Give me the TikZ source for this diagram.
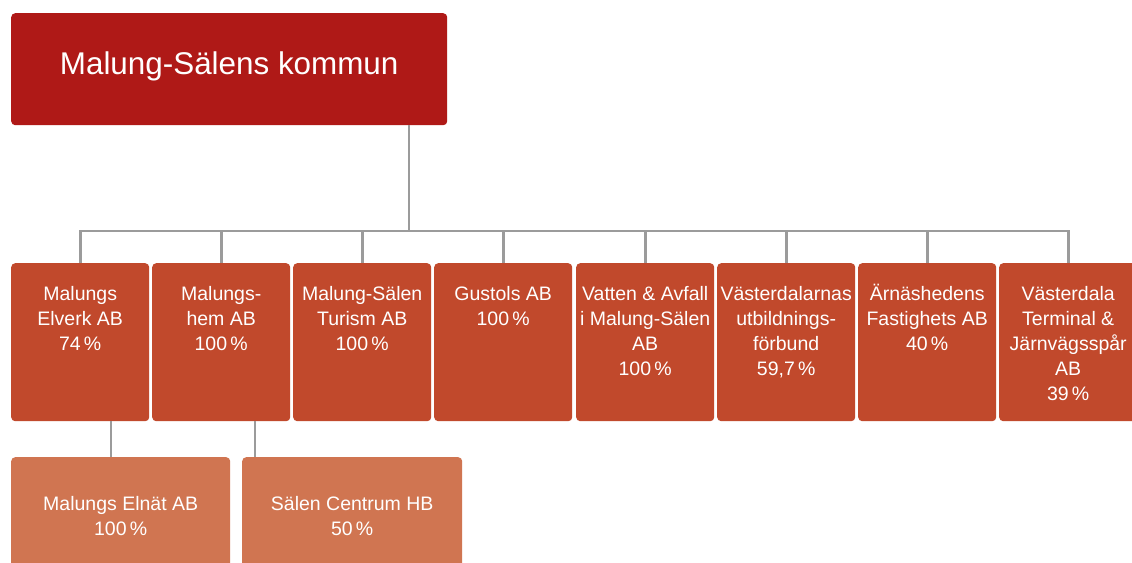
\documentclass[tikz,border=0pt]{standalone}
\usepackage{fontspec}
\setmainfont{Liberation Sans}
\definecolor{topred}{HTML}{AF1917}
\definecolor{midred}{HTML}{C1492C}
\definecolor{lowred}{HTML}{D07551}
\definecolor{linegray}{HTML}{9B9B9B}
\newcommand{\firstline}{\rule{0pt}{16pt}}
\begin{document}
\begin{tikzpicture}[x=1pt,y=-1pt,
  box/.style={draw=none, rounded corners=4pt, anchor=north west, inner sep=0pt},
  topbox/.style={box, fill=topred, minimum width=436pt, minimum height=112pt},
  midbox/.style={box, fill=midred, minimum width=138pt, minimum height=158pt},
  lowbox/.style={box, fill=lowred, minimum width=219pt, minimum height=125pt},
  txt/.style={text=white, font=\fontsize{19.5}{25}\selectfont, align=center, anchor=north, inner sep=0pt},
  conn/.style={draw=linegray, line width=2.6pt}]
\useasboundingbox[fill=white] (0,0) rectangle (1132,562);
% top
\node[topbox] (top) at (11,13) {};
\node[text=white, font=\fontsize{31.4}{36}\selectfont, anchor=base, inner sep=0pt] (toptxt) at ([yshift=-61pt]top.north) {Malung-Sälens kommun};
% middle row
\node[midbox] (m1) at (11,263) {};
\node[midbox] (m2) at (152,263) {};
\node[midbox] (m3) at (293,263) {};
\node[midbox] (m4) at (434,263) {};
\node[midbox] (m5) at (576,263) {};
\node[midbox] (m6) at (717,263) {};
\node[midbox] (m7) at (858,263) {};
\node[midbox] (m8) at (999,263) {};
\node[txt] (t1) at ([yshift=-21pt]m1.north) {\firstline Malungs\\Elverk AB\\74\,\%};
\node[txt] (t2) at ([yshift=-21pt]m2.north) {\firstline Malungs-\\hem AB\\100\,\%};
\node[txt] (t3) at ([yshift=-21pt]m3.north) {\firstline Malung-Sälen\\Turism AB\\100\,\%};
\node[txt] (t4) at ([yshift=-21pt]m4.north) {\firstline Gustols AB\\100\,\%};
\node[txt] (t5) at ([yshift=-21pt]m5.north) {\firstline Vatten \& Avfall\\i Malung-Sälen\\AB\\100\,\%};
\node[txt] (t6) at ([yshift=-21pt]m6.north) {\firstline Västerdalarnas\\utbildnings-\\förbund\\59,7\,\%};
\node[txt] (t7) at ([yshift=-21pt]m7.north) {\firstline Ärnäshedens\\Fastighets AB\\40\,\%};
\node[txt] (t8) at ([yshift=-21pt]m8.north) {\firstline Västerdala\\Terminal \&\\Järnvägsspår\\AB\\39\,\%};
% lower row
\node[lowbox] (l1) at (11,457) {};
\node[lowbox, minimum width=220pt] (l2) at (242,457) {};
\node[txt] (u1) at ([yshift=-37pt]l1.north) {\firstline Malungs Elnät AB\\100\,\%};
\node[txt] (u2) at ([yshift=-37pt]l2.north) {\firstline Sälen Centrum HB\\50\,\%};
% connectors
\coordinate (bus) at (409,231);
\draw[conn] (top.south -| bus) -- (bus);
\draw[conn, line cap=rect] (m1.north |- bus) -- (m8.north |- bus);
\foreach \i in {1,...,8} {\draw[conn] (m\i.north |- bus) -- (m\i.north);}
\coordinate (d1) at (111,440);
\coordinate (d2) at (255,440);
\draw[conn] (d1 |- m1.south) -- (d1 |- l1.north);
\draw[conn] (d2 |- m2.south) -- (d2 |- l2.north);
\end{tikzpicture}
\end{document}
